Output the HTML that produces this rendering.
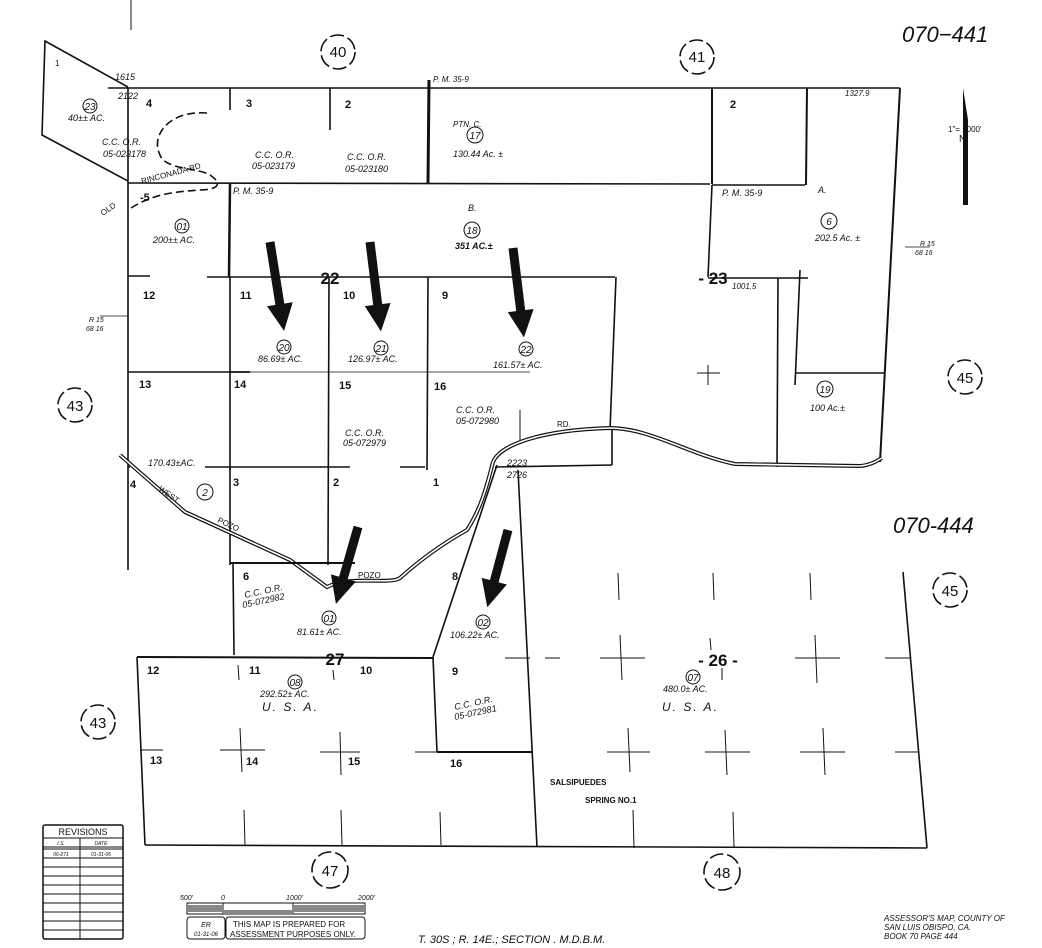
<!DOCTYPE html>
<html><head><meta charset="utf-8"><style>
html,body{margin:0;padding:0;background:#fff;width:1042px;height:948px;overflow:hidden}
svg{display:block}
text{font-family:"Liberation Sans",sans-serif;fill:#111}
.it{font-style:italic}
</style></head><body>
<svg width="1042" height="948" viewBox="0 0 1042 948" xmlns="http://www.w3.org/2000/svg">
<g stroke="#111" fill="none" stroke-width="1.6">
<!-- parcel 23 -->
<polyline points="128,87 45,41 42,135 128,181"/>
<line x1="131" y1="0" x2="131" y2="30" stroke-width="1"/>
<!-- top boundary -->
<line x1="108" y1="88" x2="900" y2="88"/>
<line x1="128" y1="88" x2="128" y2="570"/>
<line x1="230" y1="88" x2="230" y2="110"/>
<line x1="330" y1="88" x2="330" y2="130"/>
<line x1="429" y1="80" x2="428" y2="184" stroke-width="3"/>
<line x1="128" y1="183" x2="710" y2="184"/>
<line x1="712" y1="88" x2="712" y2="184" stroke-width="2"/>
<line x1="712" y1="185" x2="805" y2="185"/>
<line x1="807" y1="88" x2="806" y2="185" stroke-width="2"/>
<line x1="230" y1="183" x2="229" y2="277" stroke-width="2.5"/>
<line x1="230" y1="277" x2="615" y2="277"/>
<line x1="207" y1="277" x2="230" y2="277"/>
<line x1="128" y1="276" x2="150" y2="276"/>
<line x1="616" y1="277" x2="610" y2="430"/>
<line x1="712" y1="185" x2="708" y2="277"/>
<line x1="708" y1="278" x2="808" y2="278"/>
<line x1="778" y1="278" x2="777" y2="467"/>
<line x1="800" y1="270" x2="795" y2="385"/>
<line x1="795" y1="373" x2="885" y2="373"/>
<line x1="900" y1="88" x2="880" y2="462" stroke-width="2"/>
<!-- grid section lines -->
<line x1="128" y1="372" x2="250" y2="372"/>
<line x1="230" y1="277" x2="230" y2="470"/>
<line x1="329" y1="277" x2="328" y2="565"/>
<line x1="428" y1="277" x2="427" y2="470"/>
<line x1="230" y1="372" x2="250" y2="372"/>
<line x1="205" y1="372" x2="530" y2="372" stroke-width="0.8"/>
<line x1="205" y1="467" x2="350" y2="467"/>
<line x1="400" y1="467" x2="425" y2="467"/>
<line x1="230" y1="467" x2="230" y2="565"/>
<line x1="128" y1="467" x2="130" y2="467"/>
<line x1="495" y1="467" x2="612" y2="465"/>
<line x1="612" y1="430" x2="612" y2="465"/>
<line x1="520" y1="410" x2="520" y2="440" stroke-width="1"/>
<line x1="708" y1="365" x2="708" y2="385" stroke-width="1"/>
<line x1="697" y1="373" x2="720" y2="373" stroke-width="1"/>
<!-- road north -->
<path d="M493,462 C500,445 540,430 610,428 C650,428 690,455 735,464 L860,466 C872,465 878,460 882,458" stroke-width="4"/>
<path d="M493,462 C500,445 540,430 610,428 C650,428 690,455 735,464 L860,466 C872,465 878,460 882,458" stroke="#fff" stroke-width="1.6"/>
<!-- west pozo -->
<path d="M120,455 L185,512 L290,560 L327,587 C350,575 390,585 400,578 C420,560 440,545 467,530 C480,510 486,490 493,462" stroke-width="4"/>
<path d="M120,455 L185,512 L290,560 L327,587 C350,575 390,585 400,578 C420,560 440,545 467,530 C480,510 486,490 493,462" stroke="#fff" stroke-width="1.6"/>
<!-- southern part -->
<line x1="230" y1="563" x2="355" y2="563" stroke-width="2"/>
<line x1="233" y1="563" x2="234" y2="655"/>
<line x1="137" y1="657" x2="433" y2="658" stroke-width="2"/>
<line x1="137" y1="657" x2="145" y2="845"/>
<line x1="433" y1="657" x2="497" y2="465"/>
<line x1="433" y1="657" x2="437" y2="752"/>
<line x1="437" y1="752" x2="533" y2="752" stroke-width="2"/>
<line x1="518" y1="470" x2="537" y2="847"/>
<line x1="145" y1="845" x2="927" y2="848"/>
<line x1="903" y1="572" x2="927" y2="848"/>
<g stroke-width="1">
<line x1="505" y1="658" x2="530" y2="658"/><line x1="545" y1="658" x2="560" y2="658"/>
<line x1="600" y1="658" x2="645" y2="658"/><line x1="620" y1="635" x2="622" y2="680"/>
<line x1="795" y1="658" x2="840" y2="658"/><line x1="815" y1="635" x2="817" y2="683"/>
<line x1="885" y1="658" x2="910" y2="658"/>
<line x1="618" y1="573" x2="619" y2="600"/><line x1="713" y1="573" x2="714" y2="600"/><line x1="810" y1="573" x2="811" y2="600"/>
<line x1="710" y1="638" x2="711" y2="650"/><line x1="722" y1="668" x2="722" y2="680"/>
<line x1="140" y1="750" x2="163" y2="750"/>
<line x1="220" y1="750" x2="265" y2="750"/><line x1="240" y1="728" x2="242" y2="772"/>
<line x1="320" y1="752" x2="360" y2="752"/><line x1="340" y1="732" x2="341" y2="775"/>
<line x1="415" y1="752" x2="437" y2="752"/>
<line x1="607" y1="752" x2="650" y2="752"/><line x1="628" y1="728" x2="630" y2="772"/>
<line x1="705" y1="752" x2="750" y2="752"/><line x1="725" y1="730" x2="727" y2="775"/>
<line x1="800" y1="752" x2="845" y2="752"/><line x1="823" y1="728" x2="825" y2="775"/>
<line x1="895" y1="752" x2="918" y2="752"/>
<line x1="244" y1="810" x2="245" y2="845"/><line x1="341" y1="810" x2="342" y2="845"/><line x1="440" y1="812" x2="441" y2="845"/>
<line x1="633" y1="810" x2="634" y2="848"/><line x1="733" y1="812" x2="734" y2="848"/>
<line x1="238" y1="665" x2="239" y2="680"/><line x1="333" y1="670" x2="334" y2="680"/>
</g>
</g>
<!-- dashed rinconada -->
<path d="M207,113 C170,110 150,135 160,155 C165,170 200,168 210,175 C225,185 215,190 200,190 C170,192 150,195 128,210" stroke="#111" stroke-width="1.6" fill="none" stroke-dasharray="8,4"/>
<!-- north arrow -->
<polygon points="963,88 968,120 968,205 963,205" fill="#111"/>
<!-- arrows -->
<g fill="#111">
<g transform="translate(270,242) rotate(-9)"><rect x="-4.5" y="0" width="9" height="65"/><polygon points="-13,63 13,63 0,90"/></g>
<g transform="translate(370,242) rotate(-7)"><rect x="-4.5" y="0" width="9" height="65"/><polygon points="-13,63 13,63 0,90"/></g>
<g transform="translate(513,248) rotate(-7)"><rect x="-4.5" y="0" width="9" height="65"/><polygon points="-13,63 13,63 0,90"/></g>
<g transform="translate(358,527) rotate(16)"><rect x="-4.5" y="0" width="9" height="55"/><polygon points="-13,53 13,53 0,80"/></g>
<g transform="translate(508,530) rotate(15)"><rect x="-4.5" y="0" width="9" height="55"/><polygon points="-13,53 13,53 0,80"/></g>
</g>
<!-- circles -->
<g fill="none" stroke="#111" stroke-width="1.6" stroke-dasharray="14,4">
<circle cx="338" cy="52" r="17"/><circle cx="697" cy="57" r="17"/>
<circle cx="75" cy="405" r="17"/><circle cx="965" cy="377" r="17"/>
<circle cx="950" cy="590" r="17"/><circle cx="98" cy="722" r="17"/>
<circle cx="330" cy="870" r="18"/><circle cx="722" cy="872" r="18"/>
</g>
<g font-size="15" text-anchor="middle">
<text x="338" y="57">40</text><text x="697" y="62">41</text><text x="75" y="411">43</text>
<text x="965" y="383">45</text><text x="950" y="596">45</text><text x="98" y="728">43</text>
<text x="330" y="876">47</text><text x="722" y="878">48</text>
</g>
<g fill="none" stroke="#111" stroke-width="1">
<circle cx="90" cy="106" r="7"/><circle cx="182" cy="226" r="7"/><circle cx="475" cy="135" r="8"/>
<circle cx="472" cy="230" r="8"/><circle cx="829" cy="221" r="8"/><circle cx="284" cy="347" r="7"/>
<circle cx="381" cy="348" r="7"/><circle cx="526" cy="349" r="7"/><circle cx="825" cy="389" r="8"/>
<circle cx="205" cy="492" r="8"/><circle cx="329" cy="618" r="7"/><circle cx="483" cy="622" r="7"/>
<circle cx="295" cy="682" r="7"/><circle cx="693" cy="677" r="7"/>
</g>
<g font-size="10" text-anchor="middle" class="it">
<text x="90" y="110" class="it">23</text><text x="182" y="230">01</text><text x="475" y="139">17</text>
<text x="472" y="234">18</text><text x="829" y="225">6</text><text x="284" y="351">20</text>
<text x="381" y="352">21</text><text x="526" y="353">22</text><text x="825" y="393">19</text>
<text x="205" y="496">2</text><text x="329" y="622">01</text><text x="483" y="626">02</text>
<text x="295" y="686">08</text><text x="693" y="681">07</text>
</g>
<g font-size="9" class="it">
<text x="68" y="121">40±± AC.</text><text x="153" y="243">200±± AC.</text>
<text x="258" y="362">86.69± AC.</text><text x="348" y="362">126.97± AC.</text><text x="493" y="368">161.57± AC.</text>
<text x="297" y="635">81.61± AC.</text><text x="450" y="638">106.22± AC.</text>
<text x="260" y="697">292.52± AC.</text><text x="663" y="692">480.0± AC.</text>
<text x="148" y="466">170.43±AC.</text>
<text x="453" y="127" font-size="8">PTN. C.</text><text x="453" y="157">130.44 Ac. ±</text>
<text x="455" y="249" font-weight="bold">351 AC.±</text><text x="468" y="211">B.</text>
<text x="815" y="241">202.5 Ac. ±</text><text x="818" y="193">A.</text>
<text x="810" y="411">100 Ac.±</text>
<text x="115" y="80">1615</text><text x="118" y="99">2122</text>
<text x="507" y="466">2223</text><text x="507" y="478">2726</text>
<text x="433" y="82" font-size="8">P. M. 35-9</text>
<text x="233" y="194" font-size="9">P. M. 35-9</text>
<text x="722" y="196" font-size="9">P. M. 35-9</text>
<text x="845" y="96" font-size="8">1327.9</text>
<text x="732" y="289" font-size="8">1001.5</text>
<text x="102" y="145" font-size="9">C.C.   O.R.</text><text x="103" y="157" font-size="9">05-023178</text>
<text x="255" y="158" font-size="9">C.C.   O.R.</text><text x="252" y="169" font-size="9">05-023179</text>
<text x="347" y="160" font-size="9">C.C.   O.R.</text><text x="345" y="172" font-size="9">05-023180</text>
<text x="345" y="436" font-size="9">C.C.   O.R.</text><text x="343" y="446" font-size="9">05-072979</text>
<text x="456" y="413" font-size="9">C.C.   O.R.</text><text x="456" y="424" font-size="9">05-072980</text>
<text x="245" y="598" font-size="9" transform="rotate(-12 245 598)">C.C.   O.R.</text>
<text x="243" y="608" font-size="9" transform="rotate(-12 243 608)">05-072982</text>
<text x="455" y="710" font-size="9" transform="rotate(-12 455 710)">C.C.   O.R.</text>
<text x="455" y="720" font-size="9" transform="rotate(-12 455 720)">05-072981</text>
<text x="89" y="322" font-size="7">R 15</text><text x="86" y="322" font-size="7" dy="9">68 16</text>
<text x="920" y="246" font-size="7">R 15</text><text x="915" y="255" font-size="7">68 16</text>
</g>
<line x1="100" y1="316" x2="128" y2="316" stroke="#111" stroke-width="0.8"/>
<line x1="905" y1="247" x2="930" y2="247" stroke="#111" stroke-width="0.8"/>
<g font-size="11" font-weight="bold">
<text x="55" y="66" font-weight="normal" font-size="8">1</text>
<text x="146" y="107">4</text><text x="246" y="107">3</text><text x="345" y="108">2</text><text x="730" y="108">2</text>
<text x="140" y="201">-5</text>
<text x="143" y="299">12</text><text x="240" y="299">11</text><text x="343" y="299">10</text><text x="442" y="299">9</text>
<text x="139" y="388">13</text><text x="234" y="388">14</text><text x="339" y="389">15</text><text x="434" y="390">16</text>
<text x="130" y="488">4</text><text x="233" y="486">3</text><text x="333" y="486">2</text><text x="433" y="486">1</text>
<text x="243" y="580">6</text><text x="452" y="580">8</text>
<text x="147" y="674">12</text><text x="249" y="674">11</text><text x="360" y="674">10</text><text x="452" y="675">9</text>
<text x="150" y="764">13</text><text x="246" y="765">14</text><text x="348" y="765">15</text><text x="450" y="767">16</text>
</g>
<g font-size="17" font-weight="bold" text-anchor="middle">
<text x="330" y="284">22</text><text x="713" y="284">- 23</text>
<text x="335" y="665">27</text><text x="718" y="666">- 26 -</text>
</g>
<g font-size="12" class="it">
<text x="262" y="711" letter-spacing="2">U. S. A.</text><text x="662" y="711" letter-spacing="2">U. S. A.</text>
</g>
<g font-size="8">
<text x="142" y="184" transform="rotate(-15 142 184)">RINCONADA  RD</text>
<text x="103" y="216" transform="rotate(-35 103 216)">OLD</text>
<text x="158" y="490" transform="rotate(35 158 490)">WEST</text>
<text x="217" y="522" transform="rotate(25 217 522)">POZO</text>
<text x="358" y="578">POZO</text>
<text x="557" y="427">RD.</text>
<text x="550" y="785" font-weight="bold">SALSIPUEDES</text>
<text x="585" y="803" font-weight="bold">SPRING  NO.1</text>
<text x="948" y="132">1"= 1000'</text>
<text x="959" y="142" font-size="10">N</text>
</g>
<g font-size="22" class="it">
<text x="902" y="42">070−441</text><text x="893" y="533">070-444</text>
</g>
<!-- revisions table -->
<g stroke="#111" fill="none" stroke-width="1">
<rect x="43" y="825" width="80" height="114" rx="2" stroke-width="1.5"/>
<line x1="43" y1="838" x2="123" y2="838"/><line x1="43" y1="847" x2="123" y2="847"/><line x1="43" y1="849" x2="123" y2="849"/>
<line x1="80" y1="838" x2="80" y2="939"/>
<line x1="43" y1="858" x2="123" y2="858"/><line x1="43" y1="867" x2="123" y2="867"/><line x1="43" y1="876" x2="123" y2="876"/>
<line x1="43" y1="885" x2="123" y2="885"/><line x1="43" y1="894" x2="123" y2="894"/><line x1="43" y1="903" x2="123" y2="903"/>
<line x1="43" y1="912" x2="123" y2="912"/><line x1="43" y1="921" x2="123" y2="921"/><line x1="43" y1="930" x2="123" y2="930"/>
<rect x="187" y="903" width="178" height="11"/>
<line x1="223" y1="903" x2="223" y2="914"/><line x1="293" y1="903" x2="293" y2="914"/>
<rect x="187" y="917" width="38" height="22" rx="3"/><rect x="226" y="917" width="139" height="22" rx="3"/>
</g>
<g fill="#888"><rect x="187" y="905" width="36" height="7"/><rect x="223" y="910" width="70" height="4"/><rect x="293" y="905" width="72" height="7"/></g>
<g font-size="9" text-anchor="middle">
<text x="83" y="835" font-size="9">REVISIONS</text>
<text x="61" y="845" font-size="5" class="it">I.S.</text><text x="101" y="845" font-size="5" class="it">DATE</text>
<text x="61" y="856" font-size="5" class="it">06-271</text><text x="101" y="856" font-size="5" class="it">01-31-06</text>
<text x="206" y="927" font-size="7" class="it">ER</text><text x="206" y="936" font-size="6" class="it">01-31-06</text>
</g>
<g font-size="7" class="it">
<text x="180" y="900">500'</text><text x="221" y="900">0</text><text x="286" y="900">1000'</text><text x="358" y="900">2000'</text>
</g>
<text x="233" y="927" font-size="8">THIS MAP IS PREPARED FOR</text>
<text x="230" y="937" font-size="8">ASSESSMENT PURPOSES ONLY.</text>
<text x="418" y="943" font-size="11" class="it">T. 30S ; R. 14E.; SECTION    . M.D.B.M.</text>
<g font-size="8" class="it"><text x="884" y="921">ASSESSOR'S MAP, COUNTY OF</text><text x="884" y="930">SAN LUIS OBISPO, CA.</text><text x="884" y="939">BOOK 70  PAGE 444</text></g>
</svg>
</body></html>
